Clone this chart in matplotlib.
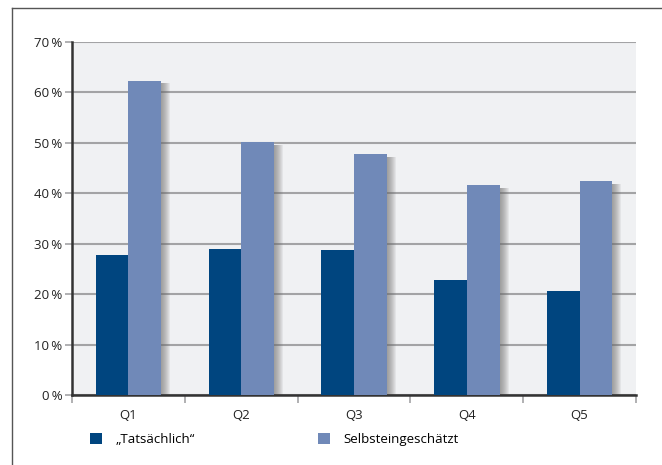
import numpy as np
import matplotlib.pyplot as plt
from matplotlib.lines import Line2D

plt.rcParams['font.family'] = ['Open Sans', 'DejaVu Sans']

quintile = ['Q1', 'Q2', 'Q3', 'Q4', 'Q5']
tatsaechlich = [27.7, 28.9, 28.7, 22.9, 20.7]
selbst = [62.3, 50.1, 47.7, 41.6, 42.4]

dark = '#00457f'
light = '#7089b8'

fig = plt.figure(figsize=(6.62, 4.65), dpi=100)
ax = fig.add_axes([0.1088, 0.1505, 0.8519, 0.7592])
ax.set_facecolor('#f0f1f3')

x = np.arange(len(quintile)) + 0.5
w = 0.29

# soft drop shadow to the right of the bars, darkest at the bar edge
for i in range(1, 10):
    ax.bar(x + w, np.array(selbst) - 0.5, 0.009 * i, align='edge',
           color='#6a6a6a', alpha=0.09, linewidth=0, zorder=2)

ax.bar(x - w, tatsaechlich, w, align='edge', color=dark, linewidth=0, zorder=3,
       label='\u201eTats\u00e4chlich\u201c')
ax.bar(x, selbst, w, align='edge', color=light, linewidth=0, zorder=3,
       label='Selbsteingesch\u00e4tzt')

ax.set_xlim(0, 5)
ax.set_ylim(0, 70)
ax.set_yticks(range(0, 71, 10))
ax.set_yticklabels([f'{v}\u2009%' for v in range(0, 71, 10)])
ax.yaxis.grid(True, color='#a3a3a5', linewidth=1.5, zorder=1)
ax.set_axisbelow(True)

ax.set_xticks(x)
ax.set_xticklabels(quintile)
ax.set_xticks(np.arange(0, 6), minor=True)
ax.tick_params(axis='x', which='major', length=0, pad=10, labelsize=9.5, colors='#222222')
ax.tick_params(axis='x', which='minor', length=6, width=1.2, color='#a3a3a5')
ax.tick_params(axis='y', length=5, width=1.2, color='#a3a3a5', labelsize=9.5,
               labelcolor='#222222', pad=2)

for s in ['top', 'right']:
    ax.spines[s].set_visible(False)
ax.spines['left'].set_color('#333333')
ax.spines['bottom'].set_color('#333333')
ax.spines['left'].set_linewidth(1.8)
ax.spines['bottom'].set_linewidth(1.8)

leg = fig.legend(loc='center left', bbox_to_anchor=(0.128, 0.054), ncol=2,
                 frameon=False, fontsize=9.5, handlelength=0.9, handleheight=0.9,
                 handletextpad=1.0, columnspacing=9.4, borderaxespad=0)

# outer frame
fig.add_artist(Line2D([12 / 662, 1], [1 - 8 / 465, 1 - 8 / 465], color='#555555', linewidth=1))
fig.add_artist(Line2D([12 / 662, 12 / 662], [0, 1 - 8 / 465], color='#555555', linewidth=1))

fig.savefig('out.png', dpi=100)
